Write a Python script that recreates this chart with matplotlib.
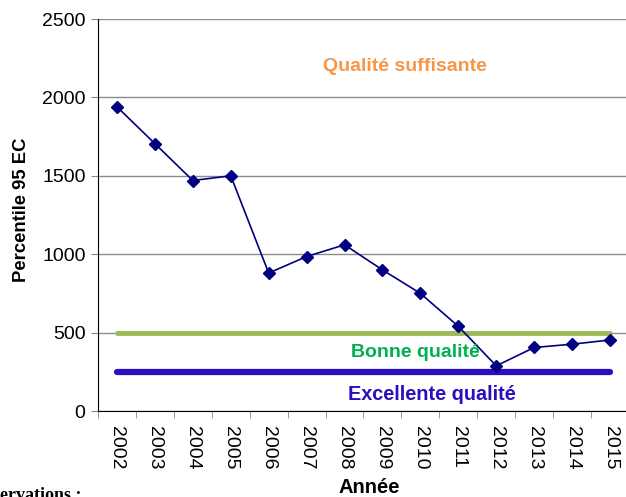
import numpy as np
import matplotlib.pyplot as plt

plt.rcParams['font.family'] = 'Liberation Sans'

years = ['2002', '2003', '2004', '2005', '2006', '2007', '2008',
         '2009', '2010', '2011', '2012', '2013', '2014', '2015']
p95 = [1940, 1705, 1470, 1500, 880, 985, 1060, 900, 750, 540, 288, 405, 426, 453]
seuil_bonne = 500
seuil_excellente = 250

W, H = 626, 497
fig = plt.figure(figsize=(W / 100, H / 100), dpi=100)
ax = fig.add_axes([98 / W, 86 / H, 531 / W, 392 / H])

x = np.arange(len(years))
ax.plot(x, [seuil_bonne] * len(x), color='#9BBB59', lw=3.5, solid_capstyle='round', zorder=2)
ax.plot(x, [seuil_excellente] * len(x), color='#2A0FBF', lw=4.5, solid_capstyle='round', zorder=2)
ax.plot(x, p95, color='#000080', lw=1.2, marker='D', ms=6.5, zorder=3)

ax.set_xlim(-0.5, len(years) - 0.5)
ax.set_ylim(0, 2500)
ax.set_yticks([0, 500, 1000, 1500, 2000, 2500])
ax.yaxis.grid(True, color='#8c8c8c', lw=1)
ax.set_axisbelow(True)

ax.set_xticks(x)
ax.set_xticklabels(years, rotation=270)
ax.set_xticks(np.arange(-0.5, len(years)), minor=True)
ax.tick_params(axis='x', which='major', length=0, pad=11, labelsize=14)
ax.tick_params(axis='x', which='minor', length=5, color='#888888')
ax.tick_params(axis='y', length=5, color='#888888', labelsize=14, pad=4)

for s in ['top', 'right']:
    ax.spines[s].set_visible(False)
ax.spines['left'].set_color('black')
ax.spines['bottom'].set_color('black')

ax.set_ylabel('Percentile 95 EC', fontweight='bold', fontsize=13.3)
ax.yaxis.set_label_coords(-0.128, 0.513)
ax.set_xlabel('Année', fontweight='bold', fontsize=14.5)
ax.xaxis.set_label_coords(0.51, -0.17)

ax.text(7.59, 2200, 'Qualité suffisante', color='#F79646', fontweight='bold',
        fontsize=14, ha='center', va='center')
ax.text(7.86, 370, 'Bonne qualité', color='#00B050', fontweight='bold',
        fontsize=14, ha='center', va='center')
ax.text(8.29, 108, 'Excellente qualité', color='#2A0FBF', fontweight='bold',
        fontsize=14.3, ha='center', va='center')

fig.text(-0.05, -0.014, 'Observations :', family='Liberation Serif',
         fontweight='bold', fontsize=13, ha='left', va='bottom')

fig.savefig('out.png', dpi=100)
